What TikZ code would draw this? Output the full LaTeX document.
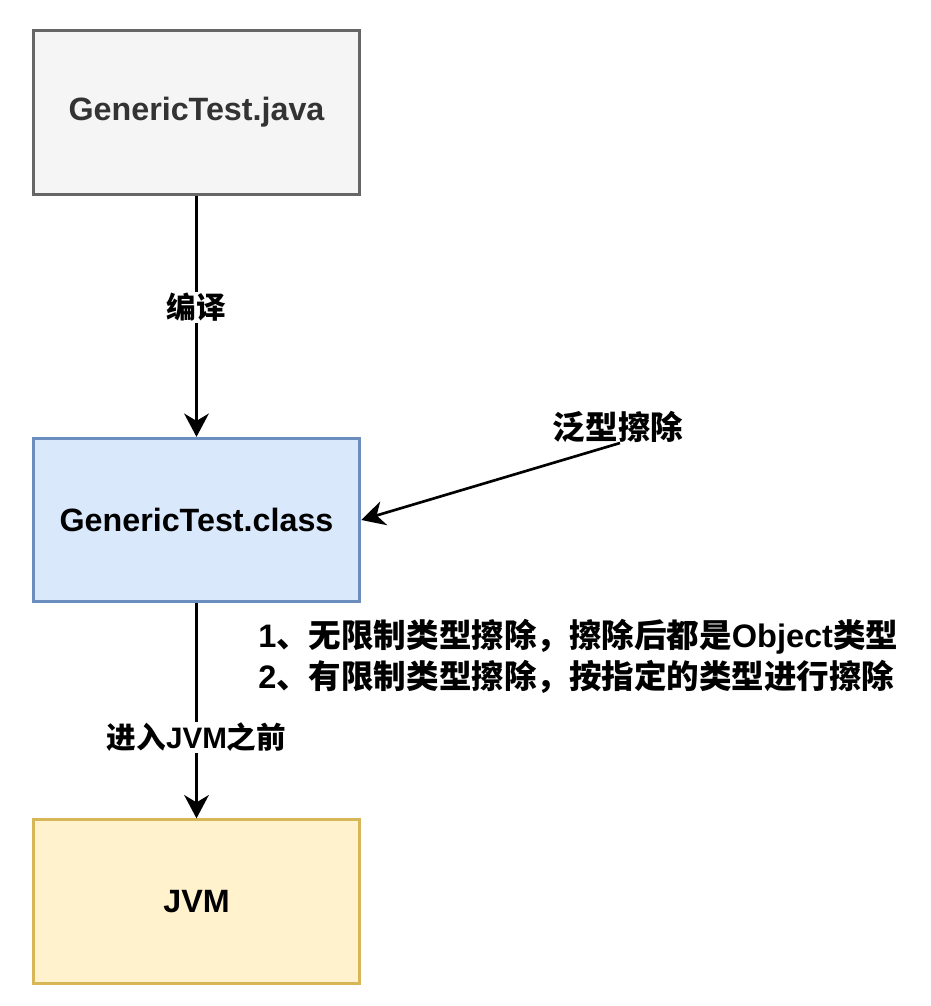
\documentclass[tikz,border=0pt]{standalone}
\usepackage{fontspec}
\setmainfont{Liberation Sans}
\newfontfamily\cjk{Noto Sans CJK SC}
\usetikzlibrary{arrows.meta}
\definecolor{javafill}{HTML}{F5F5F5}
\definecolor{javadraw}{HTML}{666666}
\definecolor{javatext}{HTML}{333333}
\definecolor{classfill}{HTML}{DAE8FC}
\definecolor{classdraw}{HTML}{6C8EBF}
\definecolor{jvmfill}{HTML}{FFF2CC}
\definecolor{jvmdraw}{HTML}{D6B656}
\newcommand{\zh}[1]{{\cjk\bfseries #1}}
\begin{document}
\begin{tikzpicture}[x=0.75pt,y=-0.75pt,
  box/.style={draw, line width=2.2pt, minimum width=245pt, minimum height=122.5pt,
    font=\fontsize{24.2}{28}\selectfont\bfseries},
  arr/.style={line width=2pt, -{Stealth[length=17.5pt,width=18.5pt,inset=5.5pt]}},
  elabel/.style={fill=white, inner sep=1pt, font=\fontsize{22.2}{26}\selectfont\bfseries},
  freetext/.style={inner sep=0pt, font=\fontsize{24.4}{30.75}\selectfont\bfseries}]
\useasboundingbox (0,0) rectangle (931,1006);
\node[box, fill=javafill, draw=javadraw, text=javatext] (java) at (196.5,112.5) {GenericTest.java};
\node[box, fill=classfill, draw=classdraw] (cls) at (196.5,520) {GenericTest.class};
\node[box, fill=jvmfill, draw=jvmdraw] (jvm) at (196.5,901.5) {JVM};
\draw[arr] (java) -- node[elabel, pos=0.463] (l1) {\zh{编译}} (cls);
\draw[arr] (cls) -- node[elabel, pos=0.624] (l2) {\zh{进入}JVM\zh{之前}} (jvm);
\node[freetext] (tag) at (618,427) {\zh{泛型擦除}};
\draw[arr] ([xshift=1.5pt]tag.south) -- (cls.east);
\node[freetext, anchor=west, align=left] (note) at (258,656.5)
  {1\zh{、无限制类型擦除，擦除后都是}Object\zh{类型}\\
   2\zh{、有限制类型擦除，按指定的类型进行擦除}};
\end{tikzpicture}
\end{document}
